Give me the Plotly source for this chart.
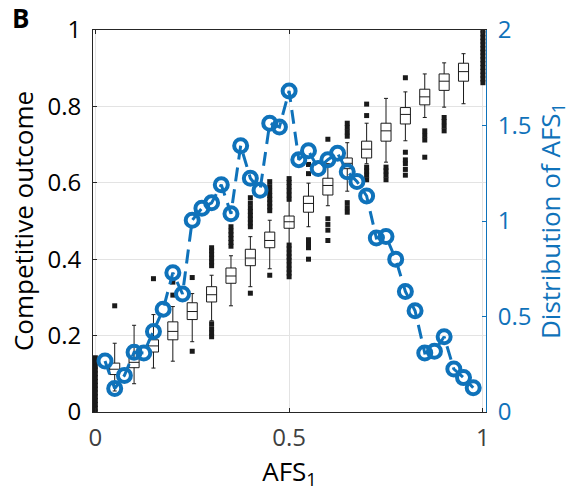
import plotly.graph_objects as go

# ---------------- data ----------------
# box plots of competitive outcome vs AFS1 (pre-computed statistics)
box_x   = [0.05, 0.10, 0.15, 0.20, 0.25, 0.30, 0.35, 0.40, 0.45, 0.50,
           0.55, 0.60, 0.65, 0.70, 0.75, 0.80, 0.85, 0.90, 0.95]
box_q1  = [0.098, 0.116, 0.157, 0.189, 0.242, 0.288, 0.337, 0.383, 0.430, 0.481,
           0.523, 0.568, 0.637, 0.665, 0.709, 0.754, 0.804, 0.842, 0.866]
box_med = [0.112, 0.130, 0.173, 0.211, 0.263, 0.307, 0.356, 0.403, 0.449, 0.498,
           0.546, 0.593, 0.651, 0.688, 0.736, 0.779, 0.825, 0.866, 0.891]
box_q3  = [0.128, 0.142, 0.189, 0.236, 0.286, 0.328, 0.377, 0.426, 0.471, 0.513,
           0.565, 0.612, 0.665, 0.709, 0.756, 0.797, 0.845, 0.885, 0.913]
box_lo  = [0.055, 0.074, 0.115, 0.133, 0.184, 0.239, 0.278, 0.328, 0.375, 0.438,
           0.485, 0.540, 0.578, 0.650, 0.654, 0.710, 0.771, 0.798, 0.807]
box_hi  = [0.180, 0.227, 0.255, 0.276, 0.310, 0.358, 0.409, 0.459, 0.502, 0.553,
           0.599, 0.650, 0.705, 0.756, 0.821, 0.838, 0.885, 0.914, 0.938]

# outliers (x position, outcome value)
out_x = ([0.0] * 15 +
         [0.05, 0.15, 0.20, 0.20, 0.25, 0.25] +
         [0.30] * 10 +
         [0.35] * 6 +
         [0.40] * 9 +
         [0.45] * 9 +
         [0.50] * 15 +
         [0.55] * 6 +
         [0.60] * 5 +
         [0.65] * 7 +
         [0.70] * 6 +
         [0.75] * 4 +
         [0.80] * 6 +
         [0.85] * 4 +
         [0.90] * 4 +
         [1.0] * 15)
out_y = ([0.0, 0.01, 0.02, 0.03, 0.04, 0.05, 0.06, 0.07, 0.08, 0.09, 0.10, 0.11, 0.12, 0.13, 0.142] +
         [0.278, 0.349, 0.306, 0.340, 0.159, 0.352] +
         [0.197, 0.207, 0.218, 0.231, 0.383, 0.393, 0.403, 0.413, 0.422, 0.430] +
         [0.434, 0.444, 0.454, 0.464, 0.474, 0.485] +
         [0.311, 0.485, 0.495, 0.505, 0.515, 0.525, 0.535, 0.547, 0.561] +
         [0.358, 0.527, 0.537, 0.547, 0.557, 0.567, 0.578, 0.590, 0.603] +
         [0.354, 0.364, 0.374, 0.385, 0.396, 0.406, 0.416, 0.427, 0.437,
          0.557, 0.568, 0.579, 0.590, 0.601, 0.611] +
         [0.400, 0.430, 0.441, 0.451, 0.624, 0.648] +
         [0.449, 0.476, 0.491, 0.506, 0.714] +
         [0.523, 0.535, 0.548, 0.722, 0.733, 0.745, 0.756] +
         [0.608, 0.620, 0.631, 0.641, 0.776, 0.806] +
         [0.608, 0.620, 0.631, 0.641] +
         [0.620, 0.635, 0.650, 0.660, 0.680, 0.875] +
         [0.667, 0.712, 0.724, 0.736] +
         [0.736, 0.748, 0.760, 0.771] +
         [0.862, 0.872, 0.882, 0.892, 0.902, 0.912, 0.922, 0.932, 0.942, 0.951,
          0.961, 0.971, 0.980, 0.990, 1.0])

# distribution of AFS1 (right axis)
afs_x = [0.025, 0.050, 0.075, 0.100, 0.125, 0.150, 0.175, 0.200, 0.225, 0.250,
         0.275, 0.300, 0.325, 0.350, 0.375, 0.400, 0.425, 0.450, 0.475, 0.500,
         0.525, 0.550, 0.575, 0.600, 0.625, 0.650, 0.675, 0.700, 0.725, 0.750,
         0.775, 0.800, 0.825, 0.850, 0.875, 0.900, 0.925, 0.950, 0.975]
afs_y = [0.267, 0.123, 0.191, 0.313, 0.309, 0.422, 0.538, 0.729, 0.618, 1.004,
         1.067, 1.095, 1.190, 1.038, 1.394, 1.224, 1.161, 1.512, 1.492, 1.681,
         1.321, 1.368, 1.275, 1.321, 1.355, 1.258, 1.207, 1.131, 0.911, 0.919,
         0.800, 0.631, 0.530, 0.309, 0.318, 0.394, 0.225, 0.180, 0.127]

x_ticks = [0, 0.5, 1]
x_ticktext = ["0", "0.5", "1"]
y_ticks = [0, 0.2, 0.4, 0.6, 0.8, 1]
y_ticktext = ["0", "0.2", "0.4", "0.6", "0.8", "1"]
y2_ticks = [0, 0.5, 1, 1.5, 2]
y2_ticktext = ["0", "0.5", "1", "1.5", "2"]

BLUE = "#0f72ba"
DARK = "#262626"
FONT = "Open Sans"
TICK_SIZE = 24
TITLE_SIZE = 26

fig = go.Figure()

fig.add_trace(go.Box(
    x=box_x, q1=box_q1, median=box_med, q3=box_q3,
    lowerfence=box_lo, upperfence=box_hi,
    width=0.026, whiskerwidth=0.4,
    line=dict(color="#1a1a1a", width=1),
    fillcolor="rgba(255,255,255,0)",
    boxpoints=False, showlegend=False, hoverinfo="skip",
))

fig.add_trace(go.Scatter(
    x=out_x, y=out_y, mode="markers",
    marker=dict(symbol="square", size=5, color="#1a1a1a", line=dict(width=0)),
    showlegend=False, hoverinfo="skip",
))

fig.add_trace(go.Scatter(
    x=afs_x, y=afs_y, yaxis="y2", mode="lines+markers",
    line=dict(color=BLUE, width=3, dash="14px,8px"),
    marker=dict(symbol="circle-open", size=13, color=BLUE, line=dict(width=4, color=BLUE)),
    showlegend=False, hoverinfo="skip",
))

fig.update_layout(
    width=578, height=500,
    margin=dict(l=93, r=92, t=19, b=88),
    paper_bgcolor="white", plot_bgcolor="white",
    font=dict(family=FONT, size=TICK_SIZE, color="#000000"),
    xaxis=dict(
        range=[-0.006, 1.008], tickvals=x_ticks, ticktext=x_ticktext,
        ticks="inside", ticklen=4, tickcolor=DARK, tickwidth=1,
        showline=True, linecolor=DARK, linewidth=1, mirror="ticks",
        showgrid=True, gridcolor="#e3e3e3", gridwidth=1, zeroline=False,
        tickfont=dict(size=TICK_SIZE, color="#404040"),
        ticklabelstandoff=4,
        title=dict(text="AFS<sub>1</sub>", font=dict(size=TITLE_SIZE, color="#000000"), standoff=10),
    ),
    yaxis=dict(
        range=[0, 1], tickvals=y_ticks, ticktext=y_ticktext,
        ticks="inside", ticklen=4, tickcolor=DARK, tickwidth=1,
        showline=True, linecolor=DARK, linewidth=1,
        showgrid=True, gridcolor="#e3e3e3", gridwidth=1, zeroline=False,
        tickfont=dict(size=TICK_SIZE, color="#000000"),
        ticklabelstandoff=6,
        title=dict(text="Competitive outcome", font=dict(size=TITLE_SIZE, color="#000000"), standoff=6),
    ),
    yaxis2=dict(
        range=[0, 2], overlaying="y", side="right",
        tickvals=y2_ticks, ticktext=y2_ticktext,
        ticks="inside", ticklen=4, tickcolor=BLUE, tickwidth=1,
        showline=True, linecolor=BLUE, linewidth=1,
        showgrid=False, zeroline=False,
        tickfont=dict(size=TICK_SIZE, color=BLUE),
        ticklabelstandoff=6,
        title=dict(text="Distribution of AFS<sub>1</sub>", font=dict(size=TITLE_SIZE, color=BLUE), standoff=8),
    ),
    annotations=[dict(
        text="<b>B</b>", x=-0.21, y=1.085, xref="paper", yref="paper",
        xanchor="left", yanchor="top",
        showarrow=False, font=dict(size=26, color="#000000"),
    )],
)

fig.write_html("out.html")
